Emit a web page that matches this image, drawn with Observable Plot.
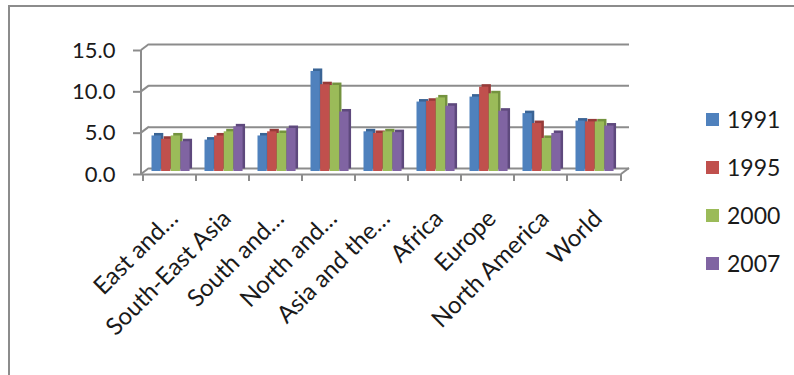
<!DOCTYPE html>
<html>
<head>
<meta charset="utf-8">
<script src="https://cdn.jsdelivr.net/npm/d3@7"></script>
<script src="https://cdn.jsdelivr.net/npm/@observablehq/plot@0.6"></script>
<style>
  body { margin: 0; background: #fff; }
  #chart { position: relative; width: 794px; height: 375px; overflow: hidden; font-family: Lato, "Open Sans", sans-serif; }
  #chart svg { position: absolute; left: 0; top: 0; }
  #box { position: absolute; left: 8px; top: 5px; right: -10px; bottom: -10px;
         border-top: 2px solid #8c8c8c; border-left: 2px solid #8c8c8c; }
  #legend { position: absolute; left: 706px; top: 95px; }
  .item { display: flex; align-items: center; height: 48px; font-size: 23px; color: #1a1a1a; }
  .sw { width: 13px; height: 13px; margin-right: 8px; }
</style>
</head>
<body>
<div id="chart"><div id="box"></div></div>
<script>
// Regions along the x axis (labels truncated as shown)
const regions = ["East and…", "South-East Asia", "South and…", "North and…", "Asia and the…", "Africa", "Europe", "North America", "World"];
const years = ["1991", "1995", "2000", "2007"];

// One value per region, per year
const v1991 = [4.3, 3.8, 4.3, 12.1, 4.8, 8.4, 9.0, 7.0, 6.1];
const v1995 = [3.9, 4.3, 4.8, 10.5, 4.6, 8.5, 10.2, 5.8, 6.0];
const v2000 = [4.3, 4.8, 4.6, 10.4, 4.8, 8.9, 9.4, 4.0, 6.0];
const v2007 = [3.6, 5.4, 5.2, 7.2, 4.7, 7.9, 7.3, 4.6, 5.5];

const yTicks = [0, 5, 10, 15];

const series = [v1991, v1995, v2000, v2007];
const faceColors = ["#4f81bd", "#c0504d", "#9bbb59", "#8064a2"];
const sideColors = ["#3a6495", "#963b39", "#74933f", "#5e497d"];

// Layout
const W = 794, H = 375;
const mLeft = 141, mRight = 173, mTop = 50, mBottom = 201;
const step = (W - mLeft - mRight) / regions.length;
const barW = 9.6, lead = 5.5;        // bar width and left gap inside each category
const wallDx = 8, wallDy = -6;       // offset of the back wall (pseudo 3D depth)
const barDx = 3, barDy = -3;         // bars stand mid-way into the floor
const sideD = 2.5;                   // visible thickness of each bar's side/top
const gray = "#8c8c8c";

const rowsFor = (vals) => regions.map((region, i) => ({region, value: vals[i]}));

const barMarks = series.flatMap((vals, s) => {
  const inset = {insetLeft: lead + s * barW, insetRight: step - lead - (s + 1) * barW};
  return [
    Plot.barY(rowsFor(vals), {x: "region", y: "value", fill: sideColors[s], ...inset,
      dx: barDx + sideD, dy: barDy - sideD}),
    Plot.barY(rowsFor(vals), {x: "region", y: "value", fill: faceColors[s], ...inset,
      dx: barDx, dy: barDy})
  ];
});

// Front axis edge, the diagonal edges joining it to the back wall, and category ticks
function edges(index, scales, values, dims) {
  const {x, y} = scales;
  const left = dims.marginLeft, right = dims.width - dims.marginRight;
  const g = d3.create("svg:g").attr("stroke", gray).attr("stroke-width", 2).attr("fill", "none");
  g.append("line").attr("x1", left).attr("x2", left).attr("y1", y(yTicks[yTicks.length - 1])).attr("y2", y(0));
  for (const t of yTicks) {
    g.append("line").attr("x1", left).attr("y1", y(t)).attr("x2", left + wallDx).attr("y2", y(t) + wallDy);
  }
  g.append("line").attr("x1", right).attr("y1", y(0)).attr("x2", right + wallDx).attr("y2", y(0) + wallDy);
  const bounds = regions.map((r) => x(r)).concat([right]);
  for (const bx of bounds) {
    g.append("line").attr("x1", bx).attr("x2", bx).attr("y1", y(0)).attr("y2", y(0) + 7);
  }
  return g.node();
}

const chart = Plot.plot({
  width: W, height: H,
  marginLeft: mLeft, marginRight: mRight, marginTop: mTop, marginBottom: mBottom,
  style: {fontFamily: "Lato, 'Open Sans', sans-serif", color: "#1a1a1a", background: "transparent", overflow: "visible"},
  x: {type: "band", domain: regions, padding: 0, label: null},
  y: {domain: [0, 15], label: null},
  marks: [
    Plot.gridY(yTicks, {stroke: gray, strokeOpacity: 1, strokeWidth: 2, dx: wallDx, dy: wallDy}),
    Plot.ruleY([0], {stroke: gray, strokeWidth: 2}),
    edges,
    ...barMarks,
    Plot.axisY(yTicks, {tickFormat: (d) => d.toFixed(1), tickSize: 8, tickPadding: 18, fontSize: 22,
      stroke: gray, strokeWidth: 2, fill: "#1a1a1a", label: null}),
    Plot.axisX({tickSize: 0, tickRotate: -45, tickPadding: 40, fontSize: 24, dx: 4, fill: "#1a1a1a", label: null})
  ]
});

const root = document.getElementById("chart");
root.appendChild(chart);

// Legend: one swatch per year
const legend = document.createElement("div");
legend.id = "legend";
years.forEach((yr, s) => {
  const item = document.createElement("div");
  item.className = "item";
  const sw = document.createElement("span");
  sw.className = "sw";
  sw.style.background = faceColors[s];
  item.appendChild(sw);
  item.appendChild(document.createTextNode(yr));
  legend.appendChild(item);
});
root.appendChild(legend);
</script>
</body>
</html>
